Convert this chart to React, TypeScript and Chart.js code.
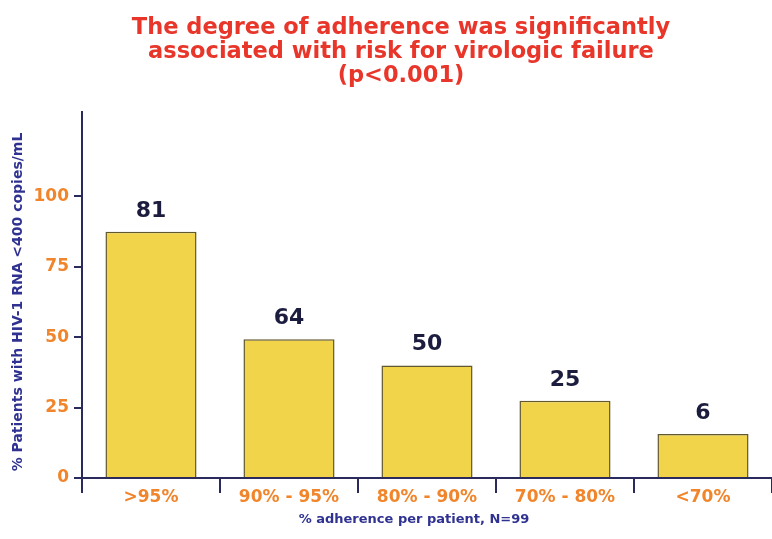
import React, { useEffect, useRef } from "react";
import { Chart, registerables } from "chart.js";

Chart.register(...registerables);

const categories = [">95%", "90% - 95%", "80% - 90%", "70% - 80%", "<70%"];
const barValues = [87.5, 49.3, 40, 27.4, 15.6];
const barLabels = ["81", "64", "50", "25", "6"];
const yTickValues = [0, 25, 50, 75, 100];
const titleLines = [
  "The degree of adherence was significantly",
  "associated with risk for virologic failure",
  "(p<0.001)",
];
const yAxisTitle = "% Patients with HIV-1 RNA <400 copies/mL";
const xAxisTitle = "% adherence per patient, N=99";

const FONT = "'DejaVu Sans', Verdana, sans-serif";
const NAVY = "#2a2a5c";
const AXIS_TITLE = "#2f3291";
const ORANGE = "#f0852b";
const RED = "#e8362a";

const overlayPlugin = {
  id: "overlay",
  afterDraw(chart: any) {
    const ctx = chart.ctx;
    ctx.save();
    // title
    ctx.fillStyle = RED;
    ctx.font = `bold 22.5px ${FONT}`;
    ctx.textAlign = "center";
    ctx.textBaseline = "middle";
    titleLines.forEach((line, i) => {
      ctx.fillText(line, 401, 28 + i * 24);
    });
    // value labels
    const meta = chart.getDatasetMeta(0);
    ctx.fillStyle = "#1c1c3e";
    ctx.font = `bold 22px ${FONT}`;
    ctx.textBaseline = "alphabetic";
    meta.data.forEach((el: any, i: number) => {
      ctx.fillText(barLabels[i], el.x, el.y - 15);
    });
    // x axis title
    ctx.fillStyle = AXIS_TITLE;
    ctx.font = `bold 13px ${FONT}`;
    ctx.textBaseline = "middle";
    ctx.fillText(xAxisTitle, 414, 520);
    // y axis title
    ctx.font = `bold 14px ${FONT}`;
    ctx.translate(18, 302);
    ctx.rotate(-Math.PI / 2);
    ctx.fillText(yAxisTitle, 0, 0);
    ctx.restore();
  },
};

export default function App() {
  const canvasRef = useRef<HTMLCanvasElement | null>(null);

  useEffect(() => {
    if (!canvasRef.current) return;
    const chart = new Chart(canvasRef.current, {
      type: "bar",
      data: {
        labels: categories,
        datasets: [
          {
            data: barValues,
            backgroundColor: "#f2d44b",
            borderColor: "#62582e",
            borderWidth: 1.5,
            barPercentage: 0.66,
            categoryPercentage: 1,
          },
        ],
      },
      options: {
        responsive: false,
        animation: false,
        layout: { padding: { top: 112, left: 0, right: 0, bottom: 0 } },
        plugins: {
          legend: { display: false },
          tooltip: { enabled: false },
          title: { display: false },
        },
        scales: {
          x: {
            offset: true,
            grid: {
              drawOnChartArea: false,
              offset: true,
              tickLength: 15,
              color: NAVY,
              lineWidth: 2,
            },
            border: { color: NAVY, width: 2 },
            ticks: {
              color: ORANGE,
              font: { family: FONT, size: 17, weight: "bold" },
              padding: -6,
              maxRotation: 0,
            },
            afterFit(scale: any) {
              scale.height = 61;
            },
          },
          y: {
            min: 0,
            max: 130,
            grid: {
              drawOnChartArea: false,
              tickLength: 8,
              color: NAVY,
              lineWidth: 2,
            },
            border: { color: NAVY, width: 2 },
            ticks: {
              color: ORANGE,
              font: { family: FONT, size: 17, weight: "bold" },
              padding: 5,
            },
            afterBuildTicks(scale: any) {
              scale.ticks = yTickValues.map((v) => ({ value: v }));
            },
            afterFit(scale: any) {
              scale.width = 82;
            },
          },
        },
      },
      plugins: [overlayPlugin],
    });
    return () => chart.destroy();
  }, []);

  return (
    <div style={{ position: "absolute", left: 0, top: 0, width: 772, height: 539, background: "#fff" }}>
      <canvas ref={canvasRef} width={772} height={539} style={{ display: "block" }} />
    </div>
  );
}
